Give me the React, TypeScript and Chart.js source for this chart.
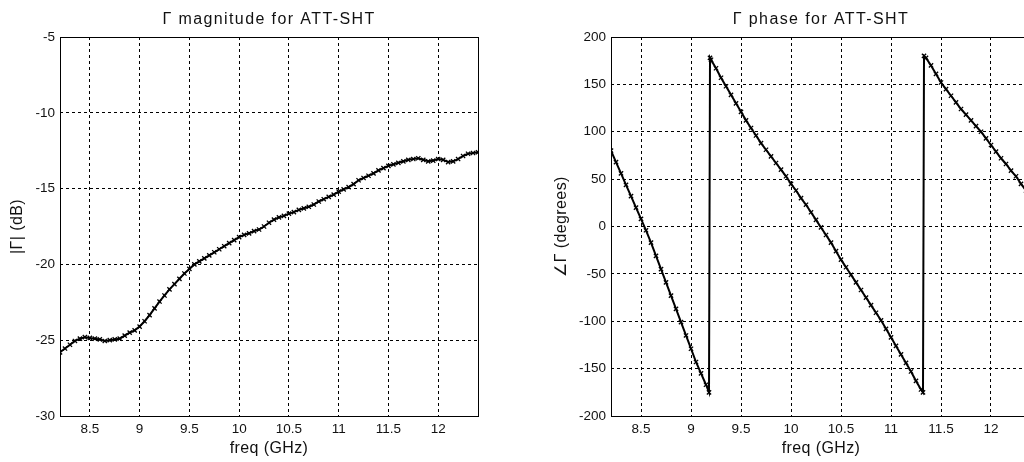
import React, { useEffect, useRef } from "react";
import { Chart, registerables } from "chart.js";
Chart.register(...registerables);

// ---- data ----
const magFreq = [
  8.2, 8.25, 8.3, 8.35, 8.4, 8.45, 8.5, 8.55, 8.6, 8.65,
  8.7, 8.75, 8.8, 8.85, 8.9, 8.95, 9, 9.05, 9.1, 9.15,
  9.2, 9.25, 9.3, 9.35, 9.4, 9.45, 9.5, 9.55, 9.6, 9.65,
  9.7, 9.75, 9.8, 9.85, 9.9, 9.95, 10, 10.05, 10.1, 10.15,
  10.2, 10.25, 10.3, 10.35, 10.4, 10.45, 10.5, 10.55, 10.6, 10.65,
  10.7, 10.75, 10.8, 10.85, 10.9, 10.95, 11, 11.05, 11.1, 11.15,
  11.2, 11.25, 11.3, 11.35, 11.4, 11.45, 11.5, 11.55, 11.6, 11.65,
  11.7, 11.75, 11.8, 11.85, 11.9, 11.95, 12, 12.05, 12.1, 12.15,
  12.2, 12.25, 12.3, 12.35, 12.4,
];
const magDb = [
  -25.8, -25.55, -25.3, -25.05, -24.9, -24.8, -24.85, -24.9, -24.95, -25.05,
  -25.0, -24.95, -24.9, -24.7, -24.5, -24.35, -24.1, -23.75, -23.35, -22.9,
  -22.45, -22.05, -21.65, -21.3, -20.95, -20.6, -20.3, -20.0, -19.8, -19.6,
  -19.4, -19.2, -19.0, -18.8, -18.6, -18.4, -18.2, -18.05, -17.95, -17.8,
  -17.7, -17.5, -17.25, -17.05, -16.9, -16.8, -16.65, -16.55, -16.4, -16.3,
  -16.2, -16.05, -15.85, -15.7, -15.55, -15.4, -15.2, -15.05, -14.9, -14.7,
  -14.45, -14.3, -14.15, -14.0, -13.8, -13.65, -13.5, -13.4, -13.3, -13.2,
  -13.1, -13.05, -13.0, -13.1, -13.2, -13.15, -13.05, -13.1, -13.25, -13.2,
  -13.05, -12.85, -12.7, -12.65, -12.6,
];
const phaseFreq = [
  8.2, 8.25, 8.3, 8.35, 8.4, 8.45, 8.5, 8.55, 8.6, 8.65,
  8.7, 8.75, 8.8, 8.85, 8.9, 8.95, 9, 9.05, 9.1, 9.15,
  9.18, 9.19, 9.2, 9.25, 9.3, 9.35, 9.4, 9.45, 9.5, 9.55,
  9.6, 9.65, 9.7, 9.75, 9.8, 9.85, 9.9, 9.95, 10, 10.05,
  10.1, 10.15, 10.2, 10.25, 10.3, 10.35, 10.4, 10.45, 10.5, 10.55,
  10.6, 10.65, 10.7, 10.75, 10.8, 10.85, 10.9, 10.95, 11, 11.05,
  11.1, 11.15, 11.2, 11.25, 11.3, 11.32, 11.33, 11.35, 11.4, 11.45,
  11.5, 11.55, 11.6, 11.65, 11.7, 11.75, 11.8, 11.85, 11.9, 11.95,
  12, 12.05, 12.1, 12.15, 12.2, 12.25, 12.3, 12.35, 12.4,
];
const phaseDeg = [
  80, 68, 56, 44, 32, 20, 8, -4, -17, -31,
  -45, -59, -73, -87, -101, -115, -129, -143, -155, -167,
  -175, 178, 176, 167, 157, 148, 139, 130, 121, 112,
  104, 96, 88, 81, 74, 67, 60, 53, 45, 38,
  30, 23, 15, 7, -1, -9, -17, -26, -35, -43,
  -51, -59, -67, -75, -83, -91, -99, -108, -117, -126,
  -135, -144, -153, -163, -172, -175, 180, 178, 170, 161,
  152, 145, 138, 131, 124, 118, 112, 106, 100, 93,
  86, 79, 72, 66, 59, 53, 45, 38, 30,
];
const freqTicks = [8.5, 9, 9.5, 10, 10.5, 11, 11.5, 12];
const magTicks = [-30, -25, -20, -15, -10, -5];
const phaseTicks = [-200, -150, -100, -50, 0, 50, 100, 150, 200];

const FONT = '"Liberation Sans", Arial, Helvetica, sans-serif';

function decor(title: string, yLabel: string, yLabelX: number) {
  return {
    id: "decor",
    afterDraw(chart: any) {
      const { ctx, chartArea: a } = chart;
      ctx.save();
      ctx.strokeStyle = "#000";
      ctx.lineWidth = 1;
      const l = Math.round(a.left), t = Math.round(a.top);
      const r = Math.round(a.right), b = Math.round(a.bottom);
      ctx.strokeRect(l + 0.5, t + 0.5, r - l, b - t);
      ctx.fillStyle = "#111";
      ctx.font = `16px ${FONT}`;
      ctx.textAlign = "center";
      ctx.textBaseline = "middle";
      const cx = (a.left + a.right) / 2;
      (ctx as any).letterSpacing = "1.4px";
      ctx.fillText(title, cx, 20);
      (ctx as any).letterSpacing = "0.4px";
      ctx.fillText("freq (GHz)", cx, 449);
      ctx.translate(yLabelX, (a.top + a.bottom) / 2);
      ctx.rotate(-Math.PI / 2);
      ctx.fillText(yLabel, 0, 0);
      ctx.restore();
    },
  };
}

function makeConfig(
  xs: number[], ys: number[], yMin: number, yMax: number, yTicks: number[],
  yWidth: number, padRight: number, title: string, yLabel: string, yLabelX: number
): any {
  return {
    type: "scatter",
    data: {
      datasets: [
        {
          data: xs.map((x, i) => ({ x, y: ys[i] })),
          showLine: true,
          borderColor: "#000",
          borderWidth: 2,
          pointStyle: "crossRot",
          pointRadius: 3,
          pointBorderWidth: 1.3,
          pointBorderColor: "#000",
          pointBackgroundColor: "#000",
          tension: 0,
        },
      ],
    },
    options: {
      responsive: false,
      animation: false,
      layout: { padding: { left: 0, top: 37, right: padRight, bottom: 0 } },
      plugins: { legend: { display: false }, tooltip: { enabled: false }, title: { display: false } },
      scales: {
        x: {
          type: "linear",
          min: 8.2,
          max: 12.4,
          afterBuildTicks: (s: any) => { s.ticks = freqTicks.map((v) => ({ value: v })); },
          afterFit: (s: any) => { s.height = 46; },
          ticks: { color: "#111", font: { family: FONT, size: 13.5 }, padding: 5, maxRotation: 0, autoSkip: false, callback: (v: any) => String(v) },
          grid: { color: "#000", lineWidth: 1, drawTicks: false },
          border: { display: false, dash: [3, 3] },
        },
        y: {
          type: "linear",
          min: yMin,
          max: yMax,
          afterBuildTicks: (s: any) => { s.ticks = yTicks.map((v) => ({ value: v })); },
          afterFit: (s: any) => { s.width = yWidth; },
          ticks: { color: "#111", font: { family: FONT, size: 13.5 }, padding: 5, autoSkip: false, callback: (v: any) => String(v) },
          grid: { color: "#000", lineWidth: 1, drawTicks: false },
          border: { display: false, dash: [3, 3] },
        },
      },
    },
    plugins: [decor(title, yLabel, yLabelX)],
  };
}

export default function App() {
  const r1 = useRef<HTMLCanvasElement>(null);
  const r2 = useRef<HTMLCanvasElement>(null);
  useEffect(() => {
    const c1 = new Chart(r1.current!, makeConfig(magFreq, magDb, -30, -5, magTicks, 60, 34,
      "Γ magnitude for ATT-SHT", "|Γ| (dB)", 18));
    const c2 = new Chart(r2.current!, makeConfig(phaseFreq, phaseDeg, -200, 200, phaseTicks, 99, 13,
      "Γ phase for ATT-SHT", "∠Γ (degrees)", 50));
    return () => { c1.destroy(); c2.destroy(); };
  }, []);
  return (
    <div style={{ position: "absolute", left: 0, top: 0, width: 1024, height: 462, overflow: "hidden", background: "#fff" }}>
      <canvas ref={r1} width={512} height={462} style={{ position: "absolute", left: 0, top: 0 }} />
      <canvas ref={r2} width={532} height={462} style={{ position: "absolute", left: 512, top: 0 }} />
    </div>
  );
}
